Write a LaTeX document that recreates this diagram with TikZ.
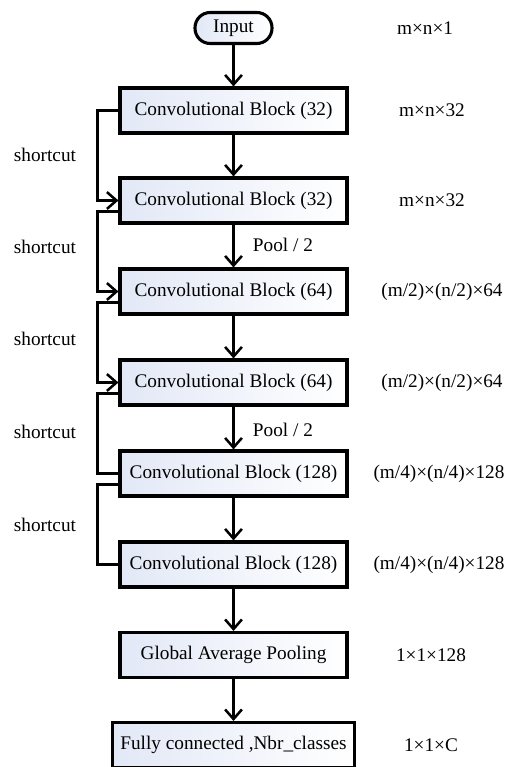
\documentclass[tikz,border=0pt]{standalone}
\usepackage{fontspec}
\setmainfont{Liberation Serif}
\usepackage{tikz}
\usetikzlibrary{shapes, arrows.meta, shadings}
\definecolor{shadeblue}{RGB}{226,232,246}
\tikzstyle{block} = [draw, line width=2.2pt, left color=shadeblue, right color=white, minimum width=5.675cm, minimum height=1.125cm, inner sep=0pt]
\tikzstyle{startstop} = [draw, line width=2.2pt, rounded corners=0.38cm, left color=shadeblue, right color=white, minimum width=1.925cm, minimum height=0.775cm, inner sep=0pt]
\tikzstyle{line} = [draw, line width=1.8pt, -{Straight Barb[length=2.4mm,width=4.2mm]}]
\tikzstyle{wire} = [draw, line width=1.8pt]

\begin{document}
\begin{tikzpicture}[font=\fontsize{13.7}{16}\selectfont]
\useasboundingbox (0,0) rectangle (12.625,-19.175);

%Blocks
\node [startstop] (in) at (5.8375,-0.7) {Input};
\node [block] (b1) at (5.8375,-2.7625) {Convolutional Block (32)};
\node [block] (b2) at (5.8375,-5.0125) {Convolutional Block (32)};
\node [block] (b3) at (5.8375,-7.2875) {Convolutional Block (64)};
\node [block] (b4) at (5.8375,-9.5625) {Convolutional Block (64)};
\node [block] (b5) at (5.8375,-11.8375) {Convolutional Block (128)};
\node [block] (b6) at (5.8375,-14.1125) {Convolutional Block (128)};
\node [block] (gap) at (5.8375,-16.375) {Global Average Pooling};
\node [block, minimum width=6.05cm] (fc) at (5.8375,-18.625) {Fully connected ,Nbr\_classes};

%Main arrows
\draw [line] (in) -- (b1);
\draw [line] (b1) -- (b2);
\draw [line] (b2) -- (b3);
\draw [line] (b3) -- (b4);
\draw [line] (b4) -- (b5);
\draw [line] (b5) -- (b6);
\draw [line] (b6) -- (gap);
\draw [line] (gap) -- (fc);

%Shortcuts
\draw [line] (b1.west) -- ++(-0.525,0) |- (b2.west);
\draw [line] ([yshift=-0.28cm]b2.west) -- ++(-0.525,0) |- (b3.west);
\draw [line] ([yshift=-0.28cm]b3.west) -- ++(-0.525,0) |- (b4.west);
\draw [wire] ([yshift=-0.28cm]b4.west) -- ++(-0.525,0) |- (b5.west);
\draw [wire] ([yshift=-0.28cm]b5.west) -- ++(-0.525,0) |- (b6.west);

%Labels
\node (s1) at (1.125,-3.875) {shortcut};
\node (s2) at (1.125,-6.175) {shortcut};
\node (s3) at (1.125,-8.475) {shortcut};
\node (s4) at (1.125,-10.8) {shortcut};
\node (s5) at (1.125,-13.125) {shortcut};

\node [anchor=west] (p1) at (6.2,-6.125) {Pool / 2};
\node [anchor=west] (p2) at (6.2,-10.75) {Pool / 2};

%Sizes
\node (d0) at (10.625,-0.7) {m×n×1};
\node (d1) at (10.8,-2.7625) {m×n×32};
\node (d2) at (10.8,-5.0125) {m×n×32};
\node (d3) at (11.05,-7.2875) {(m/2)×(n/2)×64};
\node (d4) at (11.05,-9.5625) {(m/2)×(n/2)×64};
\node (d5) at (10.975,-11.8375) {(m/4)×(n/4)×128};
\node (d6) at (10.975,-14.1125) {(m/4)×(n/4)×128};
\node (d7) at (10.775,-16.375) {1×1×128};
\node (d8) at (10.775,-18.625) {1×1×C};

\end{tikzpicture}
\end{document}
